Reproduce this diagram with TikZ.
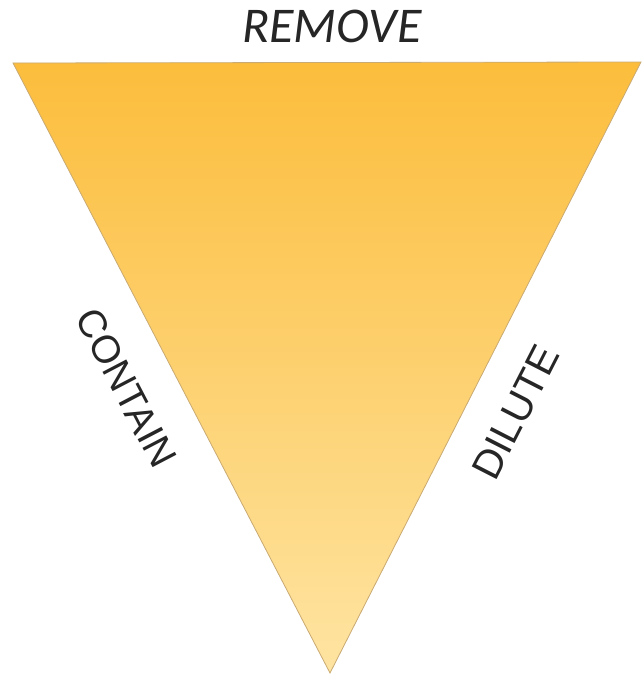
\documentclass[tikz,border=0pt]{standalone}
\usepackage{fontspec}
\setmainfont{Carlito}
\newfontfamily\sidefont{Liberation Sans}
\usepackage{xcolor}
\usepackage{tikz}
\usetikzlibrary{positioning, calc}
\definecolor{triTop}{HTML}{FCBD3C}
\definecolor{triBottom}{HTML}{FEE4A2}
\definecolor{triEdge}{HTML}{C9AA72}

\begin{document}
\begin{tikzpicture}[x=1pt, y=-1pt]
    \useasboundingbox (0,0) rectangle (641,677);

    % Triangle corners
    \coordinate (TL) at (13,63);    % top left
    \coordinate (TR) at (641,62);   % top right
    \coordinate (B) at (330,673);   % bottom tip

    % Shaded triangle
    \shade[top color=triTop, bottom color=triBottom, draw=triEdge, line width=0.8pt, line join=miter]
        (TL) -- (TR) -- (B) -- cycle;

    % Labels
    \node[font=\fontsize{50}{54}\selectfont\itshape, text=black!85] (remove) at (332,26) {REMOVE};
    \node[font=\sidefont\fontsize{39}{42}\selectfont, text=black!85, rotate=-62.4] (contain) at (126,388) {CONTAIN};
    \node[font=\sidefont\fontsize{40.5}{44}\selectfont, text=black!85, rotate=62.9] (dilute) at (516,412) {DILUTE};
\end{tikzpicture}
\end{document}
